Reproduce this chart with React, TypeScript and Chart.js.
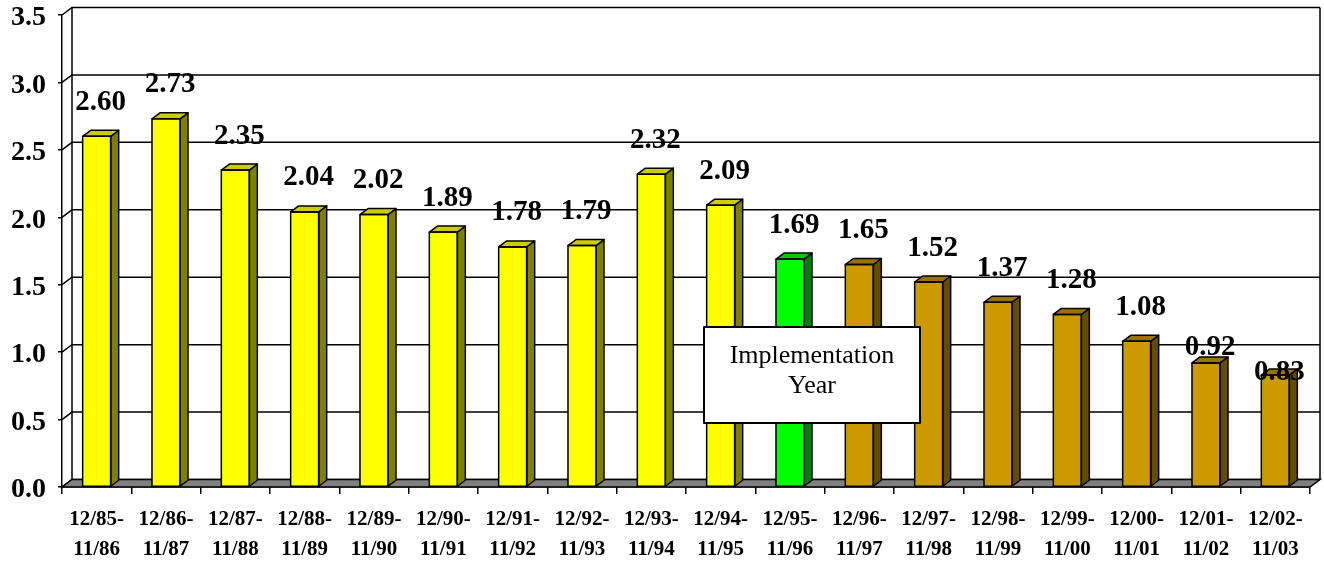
import React, { useEffect, useRef } from 'react';
import { Chart, registerables } from 'chart.js';

Chart.register(...registerables);

const categories: string[][] = [
  ['12/85-', '11/86'], ['12/86-', '11/87'], ['12/87-', '11/88'], ['12/88-', '11/89'],
  ['12/89-', '11/90'], ['12/90-', '11/91'], ['12/91-', '11/92'], ['12/92-', '11/93'],
  ['12/93-', '11/94'], ['12/94-', '11/95'], ['12/95-', '11/96'], ['12/96-', '11/97'],
  ['12/97-', '11/98'], ['12/98-', '11/99'], ['12/99-', '11/00'], ['12/00-', '11/01'],
  ['12/01-', '11/02'], ['12/02-', '11/03'],
];

const values: number[] = [
  2.60, 2.73, 2.35, 2.04, 2.02, 1.89, 1.78, 1.79, 2.32, 2.09,
  1.69, 1.65, 1.52, 1.37, 1.28, 1.08, 0.92, 0.83,
];

// period of each bar: before, implementation year, after
const periods: string[] = [
  'pre', 'pre', 'pre', 'pre', 'pre', 'pre', 'pre', 'pre', 'pre', 'pre',
  'impl', 'post', 'post', 'post', 'post', 'post', 'post', 'post',
];

const yTickValues: number[] = [0, 0.5, 1.0, 1.5, 2.0, 2.5, 3.0, 3.5];

const annotationText: string[] = ['Implementation', 'Year'];
const annotationIndex = 10;
const annotationValue = 0.83;

// ---- styles ----
const FONT = "'Liberation Serif', 'Times New Roman', serif";
const FRONT: Record<string, string> = { pre: '#FFFF00', impl: '#00FF00', post: '#CC9900' };
const SIDE: Record<string, string> = { pre: '#808000', impl: '#008000', post: '#664C00' };
const TOP: Record<string, string> = { pre: '#CCCC00', impl: '#00CC00', post: '#997300' };
const WALL_DX = 10;
const WALL_DY = -7.5;
const BAR_DX = 8;
const BAR_DY = -6;
const LABEL_LIFT = 34;
const LABEL_LIFT_OVERRIDE: Record<number, number> = { 16: 15, 17: 3 };

const threeD = {
  id: 'threeD',
  beforeDatasetsDraw(chart: any) {
    const { ctx, chartArea: a, scales } = chart;
    const y = scales.y;
    const y0 = y.getPixelForValue(0);
    const yTop = y.getPixelForValue(3.5);
    ctx.save();
    ctx.strokeStyle = '#000';
    ctx.lineWidth = 1.5;
    for (const v of yTickValues) {
      const py = y.getPixelForValue(v);
      ctx.beginPath();
      ctx.moveTo(a.left, py);
      ctx.lineTo(a.left + WALL_DX, py + WALL_DY);
      ctx.lineTo(a.right + WALL_DX, py + WALL_DY);
      ctx.stroke();
    }
    ctx.beginPath();
    ctx.moveTo(a.left + WALL_DX, yTop + WALL_DY);
    ctx.lineTo(a.left + WALL_DX, y0 + WALL_DY);
    ctx.moveTo(a.right + WALL_DX, yTop + WALL_DY);
    ctx.lineTo(a.right + WALL_DX, y0 + WALL_DY);
    ctx.stroke();
    ctx.fillStyle = '#808080';
    ctx.beginPath();
    ctx.moveTo(a.left, y0);
    ctx.lineTo(a.right, y0);
    ctx.lineTo(a.right + WALL_DX, y0 + WALL_DY);
    ctx.lineTo(a.left + WALL_DX, y0 + WALL_DY);
    ctx.closePath();
    ctx.fill();
    ctx.stroke();
    ctx.restore();
  },
  afterDatasetsDraw(chart: any) {
    const { ctx, scales } = chart;
    const meta = chart.getDatasetMeta(0);
    ctx.save();
    ctx.strokeStyle = '#000';
    ctx.lineWidth = 1.5;
    ctx.lineJoin = 'round';
    meta.data.forEach((bar: any, i: number) => {
      const p = periods[i];
      const left = bar.x - bar.width / 2;
      const right = bar.x + bar.width / 2;
      const top = bar.y;
      const base = bar.base;
      ctx.fillStyle = SIDE[p];
      ctx.beginPath();
      ctx.moveTo(right, top);
      ctx.lineTo(right + BAR_DX, top + BAR_DY);
      ctx.lineTo(right + BAR_DX, base + BAR_DY);
      ctx.lineTo(right, base);
      ctx.closePath();
      ctx.fill();
      ctx.stroke();
      ctx.fillStyle = TOP[p];
      ctx.beginPath();
      ctx.moveTo(left, top);
      ctx.lineTo(left + BAR_DX, top + BAR_DY);
      ctx.lineTo(right + BAR_DX, top + BAR_DY);
      ctx.lineTo(right, top);
      ctx.closePath();
      ctx.fill();
      ctx.stroke();
      ctx.strokeRect(left, top, right - left, base - top);
    });
    ctx.fillStyle = '#000';
    ctx.font = `bold 29px ${FONT}`;
    ctx.textAlign = 'center';
    ctx.textBaseline = 'middle';
    meta.data.forEach((bar: any, i: number) => {
      const lift = LABEL_LIFT_OVERRIDE[i] ?? LABEL_LIFT;
      ctx.fillText(values[i].toFixed(2), bar.x + BAR_DX / 2, bar.y - lift);
    });
    const cx = scales.x.getPixelForValue(annotationIndex) + 22;
    const cy = scales.y.getPixelForValue(annotationValue);
    const w = 216;
    const h = 96;
    ctx.fillStyle = '#fff';
    ctx.fillRect(cx - w / 2, cy - h / 2, w, h);
    ctx.lineWidth = 2;
    ctx.strokeRect(cx - w / 2, cy - h / 2, w, h);
    ctx.fillStyle = '#000';
    ctx.font = `26px ${FONT}`;
    annotationText.forEach((t, k) => {
      ctx.fillText(t, cx, cy - 19 + k * 30);
    });
    ctx.restore();
  },
};

export default function App() {
  const ref = useRef<HTMLCanvasElement | null>(null);
  useEffect(() => {
    document.body.style.margin = '0';
    if (!ref.current) return;
    const chart = new Chart(ref.current, {
      type: 'bar',
      data: {
        labels: categories,
        datasets: [
          {
            data: values,
            backgroundColor: periods.map((p) => FRONT[p]),
            borderWidth: 0,
            barPercentage: 0.404,
            categoryPercentage: 1,
          },
        ],
      },
      options: {
        responsive: false,
        animation: false,
        layout: { padding: { top: 15, right: 14, left: 0, bottom: 0 } },
        plugins: { legend: { display: false }, tooltip: { enabled: false } },
        scales: {
          x: {
            ticks: {
              color: '#000',
              font: { family: FONT, size: 21, weight: 'bold', lineHeight: 30 / 21 },
              padding: 11,
              maxRotation: 0,
              autoSkip: false,
            },
            grid: { offset: true, drawOnChartArea: false, tickLength: 7, color: '#000', lineWidth: 1.5 },
            border: { display: true, color: '#000', width: 1.5 },
            afterFit: (s: any) => { s.height = 74; s.paddingLeft = 0; s.paddingRight = 0; },
          },
          y: {
            min: 0,
            max: 3.5,
            ticks: {
              stepSize: 0.5,
              color: '#000',
              font: { family: FONT, size: 28, weight: 'bold' },
              padding: 12,
              labelOffset: 3,
              callback: (v: any) => Number(v).toFixed(1),
            },
            grid: { drawOnChartArea: false, tickLength: 4, color: '#000', lineWidth: 1.5 },
            border: { display: true, color: '#000', width: 1.5 },
            afterFit: (s: any) => { s.width = 62; s.paddingTop = 0; s.paddingBottom = 0; },
          },
        },
      },
      plugins: [threeD],
    });
    return () => chart.destroy();
  }, []);
  return (
    <div style={{ width: 1324, height: 561 }}>
      <canvas ref={ref} width={1324} height={561} />
    </div>
  );
}
